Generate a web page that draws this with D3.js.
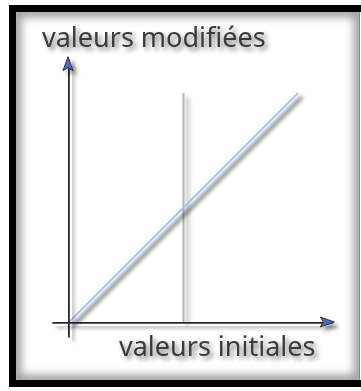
<!DOCTYPE html>
<html>
<head>
<meta charset="utf-8">
<script src="https://cdn.jsdelivr.net/npm/d3@7/dist/d3.min.js"></script>
<style>
  html, body { margin: 0; padding: 0; background: #fff; }
  svg { display: block; }
</style>
</head>
<body>
<script>
// ---- data ----
const diagX = [0, 1];            // initial values
const diagY = [0, 1];            // modified values (identity)
const markerX = [0.5];           // vertical reference line
const axisLabelX = ["valeurs initiales"];
const axisLabelY = ["valeurs modifiées"];
const axisExtentX = [-0.075, 1.15];
const axisExtentY = [-0.065, 1.15];

const W = 361, H = 391;
const svg = d3.select("body").append("svg").attr("width", W).attr("height", H);
const defs = svg.append("defs");

function shadowFilter(id, std, dx, dy, alpha) {
  const f = defs.append("filter").attr("id", id).attr("filterUnits", "userSpaceOnUse")
    .attr("x", 0).attr("y", 0).attr("width", W).attr("height", H);
  f.append("feGaussianBlur").attr("in", "SourceAlpha").attr("stdDeviation", std).attr("result", "b");
  f.append("feOffset").attr("in", "b").attr("dx", dx).attr("dy", dy).attr("result", "o");
  f.append("feComponentTransfer").attr("in", "o").attr("result", "o2")
    .append("feFuncA").attr("type", "linear").attr("slope", alpha);
  const m = f.append("feMerge");
  m.append("feMergeNode").attr("in", "o2");
  m.append("feMergeNode").attr("in", "SourceGraphic");
}
shadowFilter("sh", 2, 4, 4, 0.4);
shadowFilter("lsh", 2, 4, 4, 0.9);
shadowFilter("tsh", 2.5, 3, 3, 0.55);

const blurF = defs.append("filter").attr("id", "blurF").attr("filterUnits", "userSpaceOnUse")
  .attr("x", 0).attr("y", 0).attr("width", W).attr("height", H);
blurF.append("feGaussianBlur").attr("stdDeviation", 4);

defs.append("clipPath").attr("id", "inner").append("rect")
  .attr("x", 16).attr("y", 12).attr("width", 344).attr("height", 368);

// frame with inner shade
svg.append("rect").attr("x", 0).attr("y", 0).attr("width", W).attr("height", H).attr("fill", "#fff");
svg.append("g").attr("clip-path", "url(#inner)")
  .append("rect").attr("x", 16).attr("y", 12).attr("width", 343).attr("height", 368)
  .attr("fill", "none").attr("stroke", "#9a9a9a").attr("stroke-width", 10).attr("filter", "url(#blurF)");
svg.append("rect").attr("x", 12.5).attr("y", 8.5).attr("width", 352).attr("height", 375)
  .attr("fill", "none").attr("stroke", "#000").attr("stroke-width", 7);
svg.append("line").attr("x1", 359.5).attr("x2", 359.5).attr("y1", 12).attr("y2", 380)
  .attr("stroke", "#888").attr("stroke-width", 1);

// scales
const x = d3.scaleLinear().domain([0, 1]).range([69, 298]);
const y = d3.scaleLinear().domain([0, 1]).range([322, 93]);

const g = svg.append("g");

// vertical reference line
g.selectAll(".vline").data(markerX).enter().append("line")
  .attr("x1", d => x(d)).attr("x2", d => x(d))
  .attr("y1", y(0)).attr("y2", y(1))
  .attr("stroke", "#b5b5b5").attr("stroke-width", 2).attr("filter", "url(#sh)");

// diagonal line
const pts = diagX.map((d, i) => [d, diagY[i]]);
const line = d3.line().x(d => x(d[0])).y(d => y(d[1]));
g.append("path").datum(pts).attr("d", line)
  .attr("fill", "none").attr("stroke", "#a3c4f4").attr("stroke-width", 2).attr("filter", "url(#lsh)");

// axes (no ticks)
const xAx = d3.scaleLinear().domain(axisExtentX).range(axisExtentX.map(x));
const yAx = d3.scaleLinear().domain(axisExtentY).range(axisExtentY.map(y));
const gx = g.append("g").attr("transform", `translate(0,${y(0)})`)
  .call(d3.axisBottom(xAx).tickValues([]).tickSizeOuter(0));
const gy = g.append("g").attr("transform", `translate(${x(0) - 1},0)`)
  .call(d3.axisLeft(yAx).tickValues([]).tickSizeOuter(0));
[gx, gy].forEach(a => a.select(".domain").attr("stroke", "#262626").attr("stroke-width", 2.6).attr("filter", "url(#sh)"));

// arrowheads
const xe = xAx(axisExtentX[1]), ye = yAx(axisExtentY[1]);
g.append("path")
  .attr("d", `M${xe + 2},${y(0)} L${xe - 12},${y(0) - 5} L${xe - 9},${y(0)} L${xe - 12},${y(0) + 5} Z`)
  .attr("fill", "#4a6fc0").attr("stroke", "#333").attr("stroke-width", 1).attr("filter", "url(#sh)");
g.append("path")
  .attr("d", `M${x(0) - 1},${ye - 2} L${x(0) - 6},${ye + 12} L${x(0) - 1},${ye + 9} L${x(0) + 4},${ye + 12} Z`)
  .attr("fill", "#4a6fc0").attr("stroke", "#333").attr("stroke-width", 1).attr("filter", "url(#sh)");

// labels
svg.selectAll(".ly").data(axisLabelY).enter().append("text")
  .attr("x", 42).attr("y", 47)
  .attr("font-family", "'Noto Sans', sans-serif").attr("font-size", 27)
  .attr("fill", "#3a3a3a").attr("filter", "url(#tsh)")
  .text(d => d);
svg.selectAll(".lx").data(axisLabelX).enter().append("text")
  .attr("x", 119).attr("y", 356)
  .attr("font-family", "'Noto Sans', sans-serif").attr("font-size", 27)
  .attr("fill", "#3a3a3a").attr("filter", "url(#tsh)")
  .text(d => d);
</script>
</body>
</html>
